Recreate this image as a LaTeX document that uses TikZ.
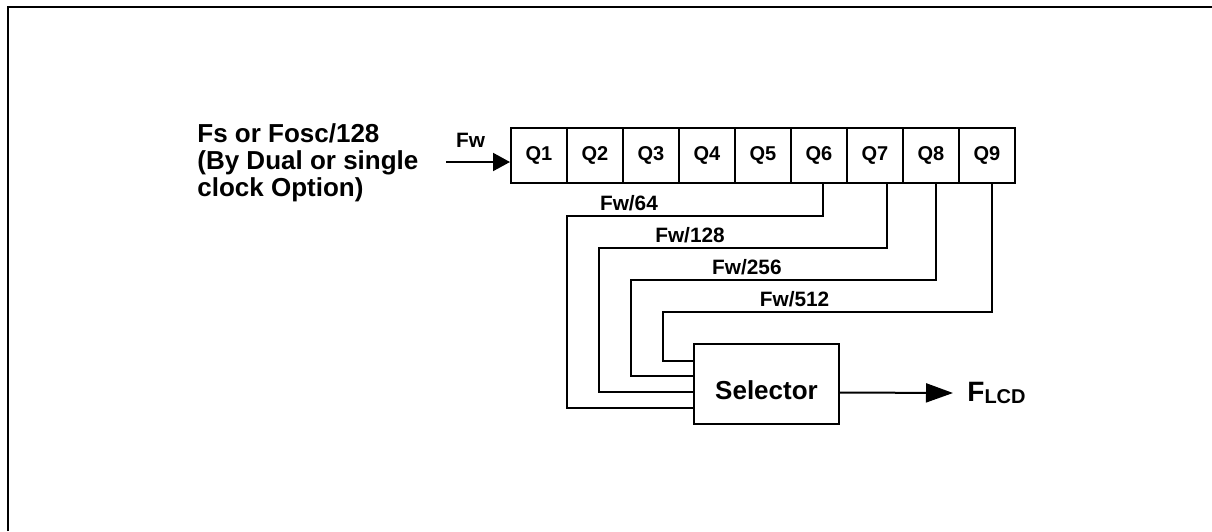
\documentclass[tikz,border=0pt]{standalone}
\usepackage{fontspec}
\setmainfont{Liberation Sans}
\usetikzlibrary{arrows.meta,positioning,calc}
\newcommand{\srcfont}{\fontsize{13}{13.5}\selectfont\bfseries
  \lineskiplimit=-20pt\relax\lineskip=0pt\relax}
\tikzset{
  cell/.style    = {draw, line width=1pt, rectangle, minimum width=28pt,
                    minimum height=27.5pt, inner sep=0pt,
                    font=\fontsize{10}{12}\selectfont\bfseries},
  selbox/.style  = {draw, line width=1pt, rectangle, minimum width=72.5pt,
                    minimum height=40pt, text height=15.5pt,
                    font=\fontsize{13}{15}\selectfont\bfseries},
  wire/.style    = {line width=1pt},
  lbl/.style     = {font=\fontsize{10.4}{12}\selectfont\bfseries, anchor=base, yshift=3pt},
  sig/.style     = {-{Triangle[length=8.5pt,width=9pt]}, line width=1pt},
  bigsig/.style  = {-{Triangle[length=13.5pt,width=9.5pt]}, line width=1pt},
}

\begin{document}
\begin{tikzpicture}[x=0.5pt,y=-0.5pt]
\useasboundingbox (0,0) rectangle (1212,531);
\draw[line width=1pt] (8,531) -- (8,7) -- (1212,7);
% source text and input
\node[font=\srcfont, align=left, anchor=north west, inner sep=0pt]
      (src) at (197,123) {Fs or Fosc/128\\(By Dual or single\\clock Option)};
\node[cell] (q1) at (539,155.5) {Q1};
\node[cell] (q2) at (595,155.5) {Q2};
\node[cell] (q3) at (651,155.5) {Q3};
\node[cell] (q4) at (707,155.5) {Q4};
\node[cell] (q5) at (763,155.5) {Q5};
\node[cell] (q6) at (819,155.5) {Q6};
\node[cell] (q7) at (875,155.5) {Q7};
\node[cell] (q8) at (931,155.5) {Q8};
\node[cell] (q9) at (987,155.5) {Q9};
\coordinate (fin) at (446,162);
\draw[sig] (fin) -- node[lbl,pos=.385,yshift=4.5pt] (fw) {Fw} ($(q1.west)+(0,6.5)$);
% selector
\node[selbox] (sel) at (766.5,384) {Selector};
\coordinate (c64) at (567,216);
\coordinate (c128) at (599,248);
\coordinate (c256) at (631,280);
\coordinate (c512) at (663,312);
\draw[wire] ($(q6.south)+(4,0)$) |- node[lbl,pos=.879] {Fw/64} (c64) |- ($(sel.west)+(0,24)$);
\draw[wire] ($(q7.south)+(12,0)$) |- node[lbl,pos=.842] {Fw/128} (c128) |- ($(sel.west)+(0,8)$);
\draw[wire] ($(q8.south)+(5,0)$) |- node[lbl,pos=.81] {Fw/256} (c256) |- ($(sel.west)+(0,-8)$);
\draw[wire] ($(q9.south)+(5,0)$) |- node[lbl,pos=.80] {Fw/512} (c512) |- ($(sel.west)+(0,-23)$);
% output
\node[font=\fontsize{14}{16}\selectfont\bfseries, anchor=west, inner xsep=7pt, inner ysep=0pt]
      (flcd) at (953,393) {F\raisebox{-1pt}{\fontsize{10}{12}\selectfont LCD}};
\draw[bigsig] ($(sel.east)+(0,8.5)$) -- (flcd.west);
\end{tikzpicture}
\end{document}
